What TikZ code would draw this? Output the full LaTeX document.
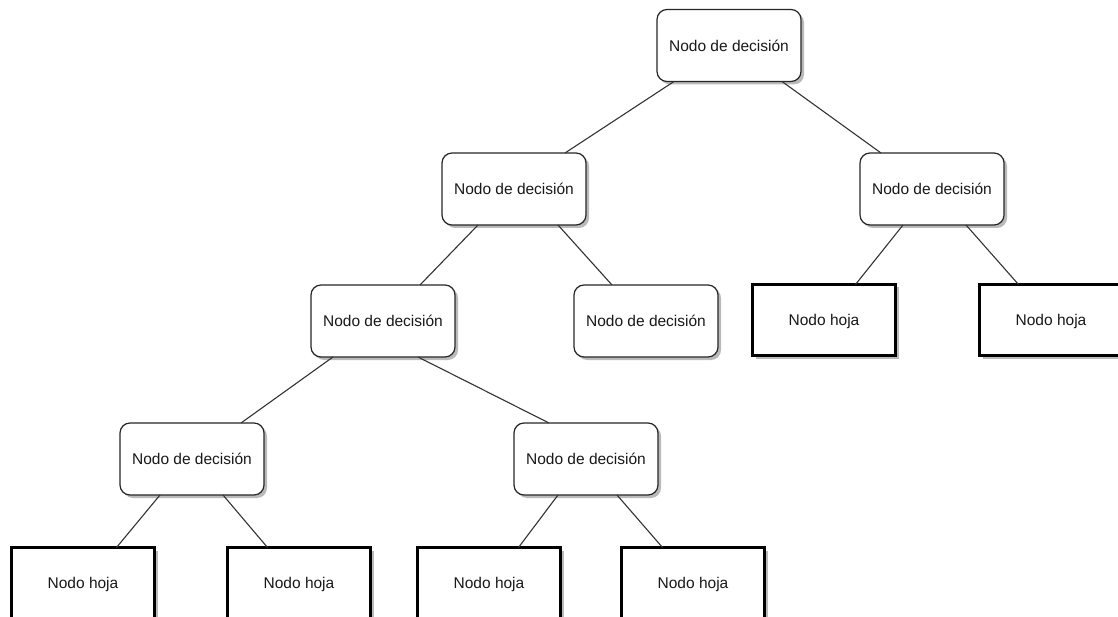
\documentclass[tikz,border=0pt]{standalone}
\usepackage{fontspec}
\setmainfont{Liberation Sans}
\usetikzlibrary{shadows}
\begin{document}
\begin{tikzpicture}[x=1pt,y=-1pt,
  boxshadow/.style={drop shadow={shadow xshift=3pt,shadow yshift=-3pt,fill=black!45,opacity=0.6}},
  boxtext/.style={font=\fontsize{15.5}{18}\selectfont,text=black!90,text height=11.1pt,text depth=0pt},
  decision/.style={draw=black!85,line width=1.2pt,rounded corners=10pt,fill=white,
    minimum width=144pt,minimum height=72pt,inner sep=0pt,outer sep=0pt,boxtext,boxshadow},
  leaf/.style={draw=black,line width=2.6pt,fill=white,
    minimum width=143pt,minimum height=71pt,inner sep=0pt,outer sep=0pt,boxtext,boxshadow},
  link/.style={draw=black!80,line width=1.1pt}]
\useasboundingbox (0,0) rectangle (1118,617);
\clip (0,0) rectangle (1118,617);

% decision nodes
\node[decision] (root) at (729,45.5) {Nodo de decisión};
\node[decision] (d1) at (514,189) {Nodo de decisión};
\node[decision] (d2) at (932,189) {Nodo de decisión};
\node[decision] (d3) at (383,321) {Nodo de decisión};
\node[decision] (d4) at (646,321) {Nodo de decisión};
\node[decision] (d5) at (192,459) {Nodo de decisión};
\node[decision] (d6) at (586,459) {Nodo de decisión};

% leaf nodes
\node[leaf] (h1) at (824,320) {Nodo hoja};
\node[leaf] (h2) at (1051,320) {Nodo hoja};
\node[leaf] (h3) at (83,583) {Nodo hoja};
\node[leaf] (h4) at (299,583) {Nodo hoja};
\node[leaf] (h5) at (489,583) {Nodo hoja};
\node[leaf] (h6) at (693,583) {Nodo hoja};

% branches
\draw[link] ([xshift=17pt]root.south west) -- ([xshift=123pt]d1.north west);
\draw[link] ([xshift=125pt]root.south west) -- ([xshift=21pt]d2.north west);
\draw[link] ([xshift=36pt]d1.south west) -- ([xshift=109pt]d3.north west);
\draw[link] ([xshift=116pt]d1.south west) -- ([xshift=38pt]d4.north west);
\draw[link] ([xshift=43pt]d2.south west) -- ([xshift=103pt]h1.north west);
\draw[link] ([xshift=106pt]d2.south west) -- ([xshift=39pt]h2.north west);
\draw[link] ([xshift=22pt]d3.south west) -- ([xshift=121pt]d5.north west);
\draw[link] ([xshift=107pt]d3.south west) -- ([xshift=35pt]d6.north west);
\draw[link] ([xshift=40pt]d5.south west) -- ([xshift=105pt]h3.north west);
\draw[link] ([xshift=103pt]d5.south west) -- ([xshift=40pt]h4.north west);
\draw[link] ([xshift=44pt]d6.south west) -- ([xshift=101pt]h5.north west);
\draw[link] ([xshift=103pt]d6.south west) -- ([xshift=41pt]h6.north west);
\end{tikzpicture}
\end{document}
